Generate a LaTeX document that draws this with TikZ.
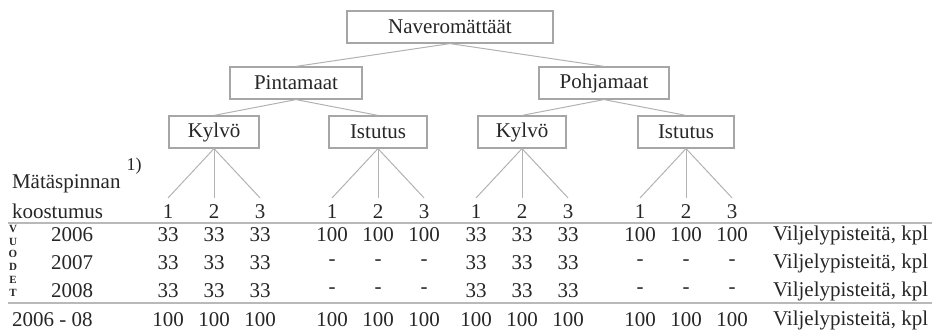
\documentclass[tikz,border=0pt]{standalone}
\usepackage{fontspec}
\setmainfont{Liberation Serif}
\usetikzlibrary{trees}

\begin{document}
\begin{tikzpicture}[x=0.5pt,y=-0.5pt,
    font=\fontsize{10.5}{12}\selectfont, text=black!85,
    boxnode/.style={draw=gray!70, line width=0.6pt, minimum height=16pt, inner sep=2pt},
    edge from parent/.style={draw=gray!60, line width=0.5pt},
    edge from parent path={(\tikzparentnode.south) -- (\tikzchildnode.north)},
    level 1/.style={level distance=28pt, sibling distance=154pt},
    level 2/.style={level distance=24.5pt, sibling distance=82pt},
    level 3/.style={level distance=40pt, sibling distance=23pt},
    sepline/.style={draw=gray!55, line width=1pt}]
    \useasboundingbox (0,0) rectangle (937,331);

    \node [boxnode, minimum width=103pt] (nav) at (450,27) {Naveromättäät}
      child {node [boxnode, minimum width=66pt] (pinta) {Pintamaat}
          child {node [boxnode, minimum width=45pt] (kylvoA) {Kylvö}
            child {node (kA1) {1}}
            child {node (kA2) {2}}
            child {node (kA3) {3}}
          }
          child {node [boxnode, minimum width=49pt] (istutusA) {Istutus}
            child {node (iA1) {1}}
            child {node (iA2) {2}}
            child {node (iA3) {3}}
          }
      }
      child {node [boxnode, minimum width=65pt] (pohja) {Pohjamaat}
          child {node [boxnode, minimum width=44pt] (kylvoB) {Kylvö}
            child {node (kB1) {1}}
            child {node (kB2) {2}}
            child {node (kB3) {3}}
          }
          child {node [boxnode, minimum width=48pt] (istutusB) {Istutus}
            child {node (iB1) {1}}
            child {node (iB2) {2}}
            child {node (iB3) {3}}
          }
      }
        ;

    % vasen sarake
    \node [anchor=west] (mata) at (5,184) {Mätäspinnan};
    \node [font=\fontsize{9}{10}\selectfont] (viite) at (134,166) {1)};
    \node [anchor=west] (koost) at (5,211) {koostumus};
    \foreach \l [count=\i] in {V,U,O,D,E,T}
      \node [font=\fontsize{5.5}{6}\selectfont\bfseries, inner sep=0pt] (vu\i) at (13,{216+12.8*\i}) {\l};

    \coordinate (r06) at (0,235);
    \coordinate (r07) at (0,263);
    \coordinate (r08) at (0,291);
    \coordinate (rsum) at (0,320);
    \coordinate (vx) at (766,0);

    \node (v06) at (72,235) {2006};
    \node (v07) at (72,263) {2007};
    \node (v08) at (72,291) {2008};
    \node [anchor=west] (vsum) at (5,320) {2006 - 08};

    % luvut
    \foreach \col in {kA1,kA2,kA3,kB1,kB2,kB3} {
      \node (\col-06) at (\col |- r06) {33};
      \node (\col-07) at (\col |- r07) {33};
      \node (\col-08) at (\col |- r08) {33};
      \node (\col-sum) at (\col |- rsum) {100};
    }
    \foreach \col in {iA1,iA2,iA3,iB1,iB2,iB3} {
      \node (\col-06) at (\col |- r06) {100};
      \node (\col-07) at (\col |- r07) {-};
      \node (\col-08) at (\col |- r08) {-};
      \node (\col-sum) at (\col |- rsum) {100};
    }
    \foreach \r in {r06,r07,r08,rsum}
      \node [anchor=west] (vilj-\r) at (vx |- \r) {Viljelypisteitä, kpl};

    % vaakaviivat
    \coordinate (ruleA-l) at (8,223);
    \coordinate (ruleA-r) at (932,223);
    \coordinate (ruleB-l) at (8,303);
    \coordinate (ruleB-r) at (932,303);
    \draw [sepline] (ruleA-l) -- (ruleA-r);
    \draw [sepline] (ruleB-l) -- (ruleB-r);
\end{tikzpicture}
\end{document}
